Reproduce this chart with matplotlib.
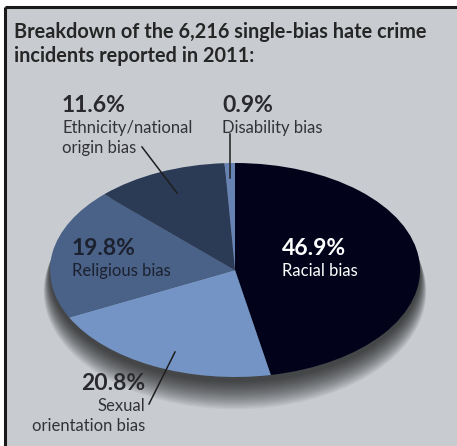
import matplotlib
matplotlib.use("Agg")
import matplotlib.pyplot as plt
from matplotlib.patches import Rectangle, Ellipse

W, H = 457, 446

categories = ["Racial bias", "Sexual\norientation bias", "Religious bias",
              "Ethnicity/national\norigin bias", "Disability bias"]
shares = [46.9, 20.8, 19.8, 11.6, 0.9]
pct_labels = ["46.9%", "20.8%", "19.8%", "11.6%", "0.9%"]
colors = ["#02031a", "#7394c4", "#4a6287", "#2b3a55", "#6783b4"]

title = "Breakdown of the 6,216 single-bias hate crime\nincidents reported in 2011:"

FONT = "Lato"
BG = "#c8ccd1"
TXT = "#2a2a2e"

fig = plt.figure(figsize=(W / 100, H / 100), dpi=100)
fig.patch.set_facecolor("white")

bg = fig.add_axes([0, 0, 1, 1])
bg.set_xlim(0, W)
bg.set_ylim(H, 0)
bg.axis("off")

# gray panel with frame
bg.add_patch(Rectangle((5, 6.5), W, H, facecolor=BG, edgecolor="none", zorder=2))
bg.plot([5, W], [6.5, 6.5], color="#1a1a1a", lw=2.2, zorder=3, solid_capstyle="butt")
bg.plot([5, 5], [6.5, H], color="#1a1a1a", lw=2.2, zorder=3, solid_capstyle="butt")

# soft shadow under the pie
cx, cy, rx, ry = 235, 270, 185, 107
for s in range(0, 22):
    bg.add_patch(Ellipse((cx, cy + 5 + s * 0.8), 2 * (rx + s * 0.3), 2 * (ry + s * 0.5),
                         facecolor="black", edgecolor="none", alpha=0.045, zorder=3))

# pie
pax = fig.add_axes([(cx - rx) / W, (H - cy - ry) / H, 2 * rx / W, 2 * ry / H])
pax.pie(shares, colors=colors, startangle=90, counterclock=False, radius=1,
        wedgeprops=dict(linewidth=0))
pax.set_aspect("auto")
pax.set_xlim(-1, 1)
pax.set_ylim(-1, 1)
pax.axis("off")

# overlay for texts and leader lines
ov = fig.add_axes([0, 0, 1, 1])
ov.set_xlim(0, W)
ov.set_ylim(H, 0)
ov.axis("off")
ov.patch.set_alpha(0)

ov.text(14, 22, title, fontsize=14.3, fontweight="bold", family=FONT,
        color="#262626", va="top", ha="left", linespacing=1.22)

PCT = 16.5
LAB = 12
LAB_C = "#333336"
ov.text(62, 112, pct_labels[3], fontsize=PCT, fontweight="bold", family=FONT, color=TXT)
ov.text(62, 120, categories[3], fontsize=LAB, family=FONT, color=LAB_C, va="top",
        linespacing=1.3)
ov.text(222, 112, pct_labels[4], fontsize=PCT, fontweight="bold", family=FONT, color=TXT)
ov.text(222, 120, categories[4], fontsize=LAB, family=FONT, color=LAB_C, va="top")
ov.text(72, 255, pct_labels[2], fontsize=PCT, fontweight="bold", family=FONT, color="#1c2130")
ov.text(72, 263, categories[2], fontsize=LAB, family=FONT, color="#1c2130", va="top")
ov.text(282, 255, pct_labels[0], fontsize=PCT, fontweight="bold", family=FONT, color="white")
ov.text(282, 263, categories[0], fontsize=LAB, family=FONT, color="white", va="top")
ov.text(145, 390, pct_labels[1], fontsize=PCT, fontweight="bold", family=FONT, color=TXT,
        ha="right")
ov.text(145, 398, categories[1], fontsize=LAB, family=FONT, color=LAB_C, va="top",
        ha="right", multialignment="right", linespacing=1.3)

# leader lines
ov.plot([142, 177], [147, 193], color="#1e1e1e", lw=1.1)
ov.plot([230, 230], [134, 178], color="#1e1e1e", lw=1.1)
ov.plot([149, 175], [404, 352], color="#1e1e1e", lw=1.1)

fig.savefig("out.png", dpi=100, facecolor=fig.get_facecolor())
